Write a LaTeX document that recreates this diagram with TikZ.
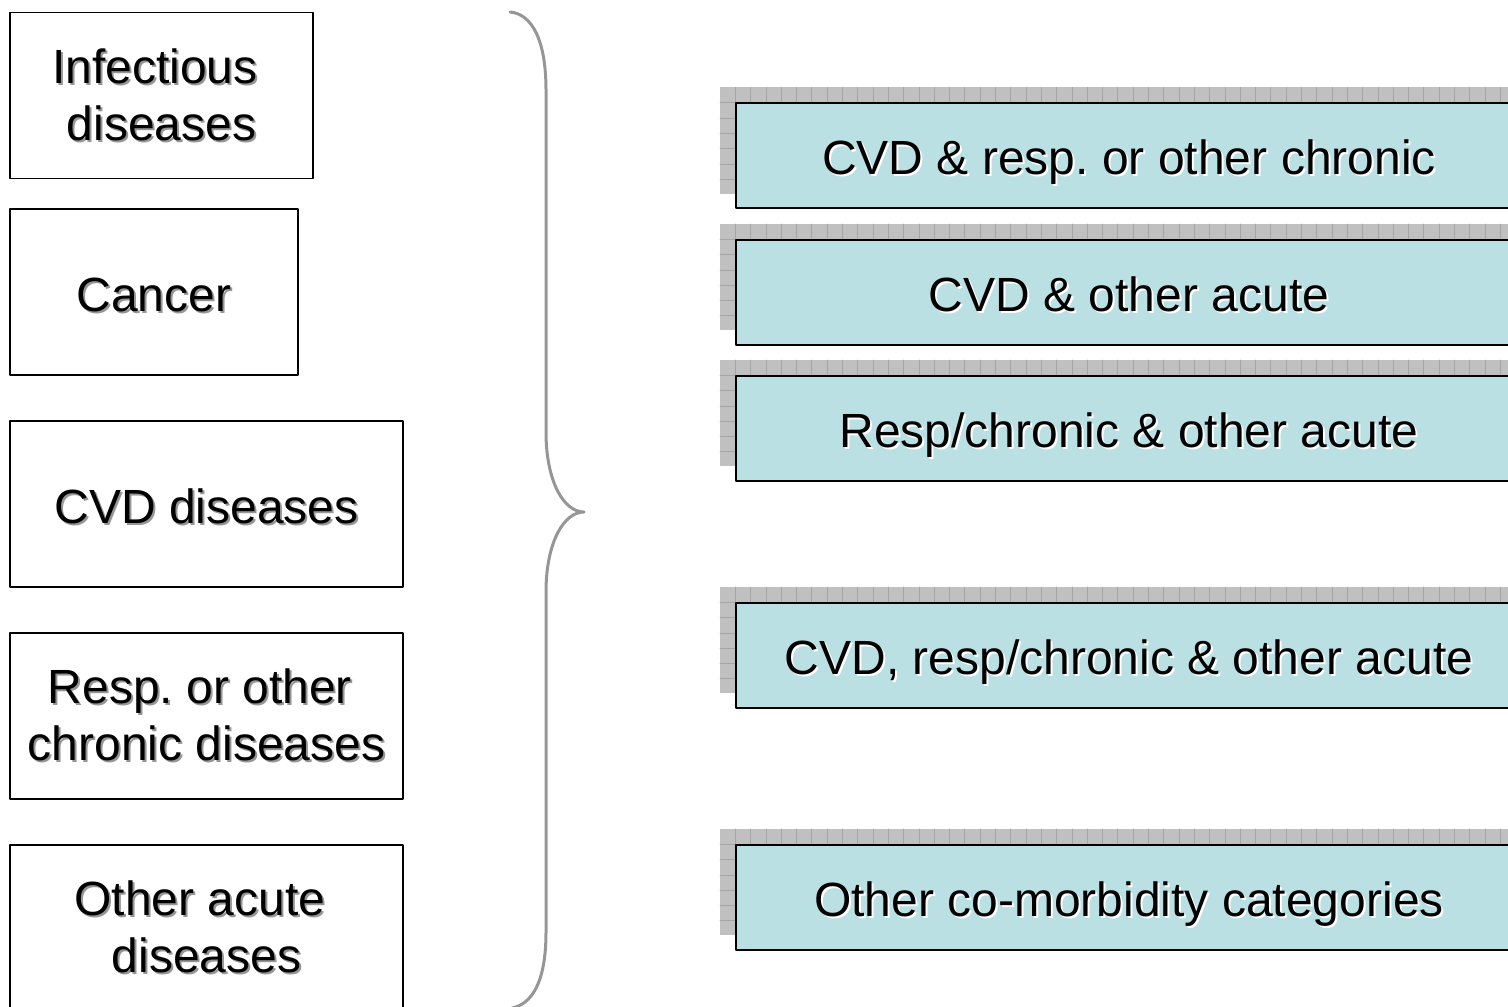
\documentclass[tikz,border=0pt]{standalone}
\usepackage{fontspec}
\setmainfont{Liberation Sans}
\usepackage{xcolor}
\frenchspacing
\definecolor{BoxFill}{RGB}{186,224,227}
\definecolor{ShadowFill}{RGB}{192,192,192}
\definecolor{ShadowGrid}{RGB}{165,165,165}
\definecolor{BraceGray}{RGB}{150,150,150}
\definecolor{TextShade}{RGB}{150,150,150}
\newcommand{\shtext}[2]{\leavevmode\rlap{\hspace{1pt}\raisebox{-1pt}{\textcolor{#1}{#2}}}#2}
\newcommand{\trail}{\kern0.278em}

\begin{document}
\begin{tikzpicture}[line cap=round,line join=round,x=0.5pt,y=-0.5pt
  ,disease/.style={draw,line width=0.75pt,minimum height=83pt,align=center,
    font=\fontsize{24}{28.5}\selectfont}
  ,oneline/.style={text height=19pt,text depth=0pt}
  ,combo/.style={draw,line width=1pt,fill=BoxFill,minimum width=393pt,
    minimum height=52.5pt,oneline,font=\fontsize{24}{28.5}\selectfont}
  ,gridline/.style={ShadowGrid,line width=0.4pt}]
  \useasboundingbox (0,0) rectangle (1508,1006);
  \clip (0,0) rectangle (1508,1006);
  % single diseases
  \node[disease,minimum width=151.5pt] (infect) at (161.5,95.5)
    {\shtext{TextShade}{Infectious}\trail\\\shtext{TextShade}{diseases}};
  \node[disease,oneline,minimum width=144pt] (cancer) at (154,292)
    {\shtext{TextShade}{Cancer}};
  \node[disease,oneline,minimum width=196.5pt] (cvd) at (206.5,504)
    {\shtext{TextShade}{CVD diseases}};
  \node[disease,minimum width=196.5pt] (resp) at (206.5,716)
    {\shtext{TextShade}{Resp. or other}\trail\\\shtext{TextShade}{chronic diseases}};
  \node[disease,minimum width=196.5pt] (acute) at (206.5,928)
    {\shtext{TextShade}{Other acute}\trail\\\shtext{TextShade}{diseases}};
  % brace
  \draw [BraceGray,line width=1.5pt] (510,12) .. controls (532,14) and (546,40) .. (546,90)
    -- (546,432) .. controls (546,482) and (564,512) .. (584,512)
    .. controls (564,512) and (546,542) .. (546,592)
    -- (546,932) .. controls (546,982) and (532,1004) .. (512,1008);
  % co-morbidity categories
  \foreach \y/\name/\txt in {155.5/cvdresp/{CVD \& resp. or other chronic},
      292/cvdacute/{CVD \& other acute},
      428/respacute/{Resp/chronic \& other acute},
      655/allthree/{CVD, resp/chronic \& other acute},
      897/othercat/{Other co-morbidity categories}}{
    \fill [ShadowFill] (720,\y-68) rectangle (1522,\y+38);
    \foreach \k in {1,...,52}
      \draw [gridline] (720+\k*15.3,\y-68) -- (720+\k*15.3,\y+38);
    \foreach \k in {1,...,6}
      \draw [gridline] (720,\y-68+\k*15.3) -- (1522,\y-68+\k*15.3);
    \node[combo] (\name) at (1129,\y) {\shtext{white}{\txt}};
  }
\end{tikzpicture}
\end{document}
